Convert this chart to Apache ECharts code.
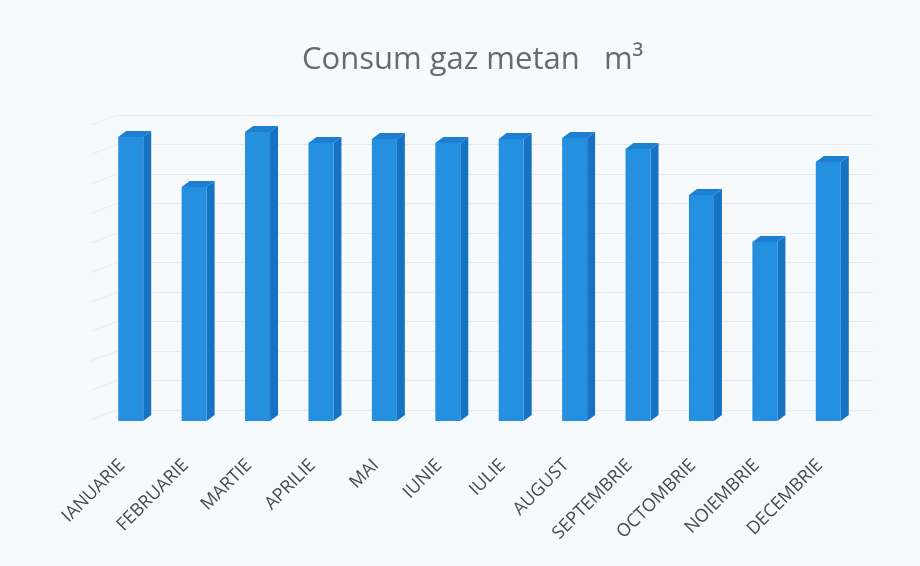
<!DOCTYPE html>
<html>
<head>
<meta charset="utf-8">
<script src="https://cdn.jsdelivr.net/npm/echarts@6/dist/echarts.min.js"></script>
<style>
html,body{margin:0;padding:0;background:#f7fafc;}
#chart{width:920px;height:566px;}
</style>
</head>
<body>
<div id="chart"></div>
<script>
const titleText = 'Consum gaz metan   m\u00B3';
const months = ['IANUARIE','FEBRUARIE','MARTIE','APRILIE','MAI','IUNIE','IULIE','AUGUST','SEPTEMBRIE','OCTOMBRIE','NOIEMBRIE','DECEMBRIE'];
const consum = [963, 793, 980, 942, 956, 942, 956, 959, 922, 766, 607, 878];
const wallTicks = [0, 100, 200, 300, 400, 500, 600, 700, 800, 900, 1000];

const FRONT = '#2690e0', SIDE = '#1673c4', TOPC = '#1c7fd2';
const chart = echarts.init(document.getElementById('chart'), null, {renderer: 'canvas'});

function renderBar(params, api) {
  const i = api.value(0), v = api.value(1);
  const top = api.coord([i, v]);
  const base = api.coord([i, 0]);
  const band = api.size([1, 0])[0];
  const w = band * 0.394;
  const dx = 8, dy = 6;
  const x0 = top[0] - w / 2, x1 = top[0] + w / 2;
  return {
    type: 'group',
    children: [
      {type: 'polygon', shape: {points: [[x1, top[1]], [x1 + dx, top[1] - dy], [x1 + dx, base[1] - dy], [x1, base[1]]]}, style: {fill: SIDE}},
      {type: 'polygon', shape: {points: [[x0, top[1]], [x0 + dx, top[1] - dy], [x1 + dx, top[1] - dy], [x1, top[1]]]}, style: {fill: TOPC}},
      {type: 'rect', shape: {x: x0, y: top[1], width: w, height: base[1] - top[1]}, style: {fill: FRONT}}
    ]
  };
}

function renderWall(params, api) {
  const v = api.value(0);
  const p = api.coord([0, v]);
  const band = api.size([1, 0])[0];
  const xl = p[0] - band / 2;
  return {
    type: 'line',
    shape: {x1: xl, y1: p[1], x2: xl - 26, y2: p[1] + 10},
    style: {stroke: '#e8ecf1', lineWidth: 1}
  };
}

chart.setOption({
  backgroundColor: '#f7fafc',
  animation: false,
  title: {
    text: titleText,
    left: 297,
    top: 40,
    textStyle: {fontFamily: 'Open Sans', fontSize: 31, fontWeight: 'normal', color: '#6a6a6a'}
  },
  grid: [
    {left: 99, right: 60, top: 126, bottom: 145},
    {left: 117, right: 47, top: 115, bottom: 156}
  ],
  xAxis: [
    {
      type: 'category', gridIndex: 0, data: months,
      axisLine: {show: false}, axisTick: {show: false},
      axisLabel: {rotate: 45, margin: 33, interval: 0, padding: [0, 12, 0, 0], fontFamily: 'Open Sans', fontSize: 18, color: '#4a4a4a'}
    },
    {
      type: 'category', gridIndex: 1, data: months,
      axisLine: {show: false}, axisTick: {show: false}, axisLabel: {show: false}
    }
  ],
  yAxis: [
    {type: 'value', gridIndex: 0, min: 0, max: 1000, interval: 100, show: false, splitLine: {show: false}},
    {
      type: 'value', gridIndex: 1, min: 0, max: 1000, interval: 100,
      axisLine: {show: false}, axisTick: {show: false}, axisLabel: {show: false},
      splitLine: {show: true, lineStyle: {color: '#e6eaef', width: 1}}
    }
  ],
  series: [
    {
      type: 'custom', xAxisIndex: 1, yAxisIndex: 1,
      renderItem: renderWall,
      data: wallTicks.map(t => [t]),
      encode: {y: 0},
      silent: true, z: 1
    },
    {
      type: 'custom', xAxisIndex: 0, yAxisIndex: 0,
      renderItem: renderBar,
      data: consum.map((v, i) => [i, v]),
      encode: {x: 0, y: 1},
      z: 2
    }
  ]
});
</script>
</body>
</html>
